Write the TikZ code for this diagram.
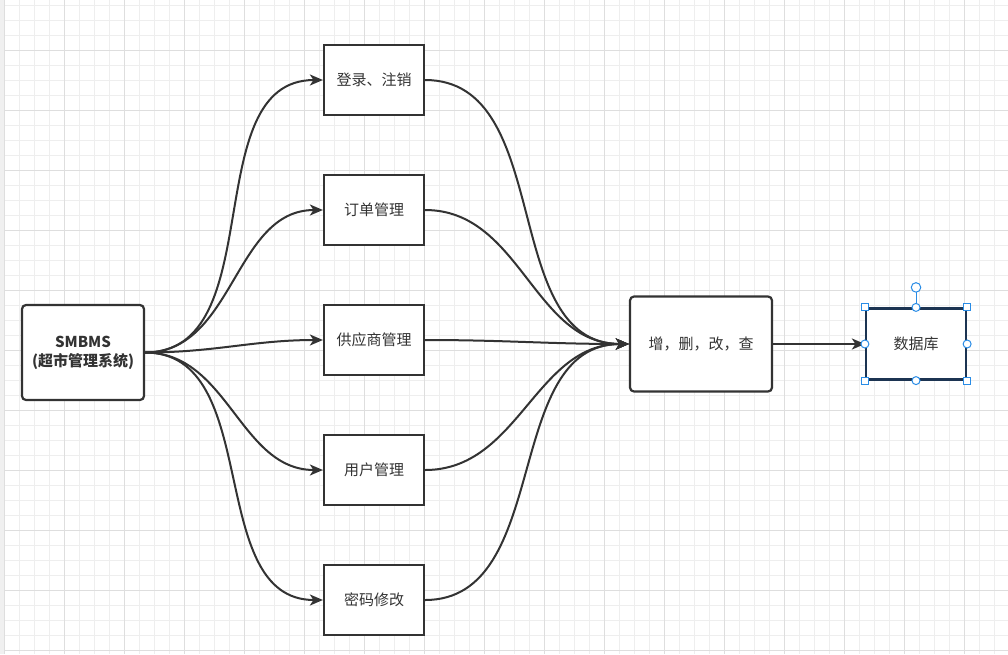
\documentclass[tikz,border=0pt]{standalone}
\usepackage{fontspec}
\newfontfamily\cjk{Noto Sans CJK SC}
\usetikzlibrary{arrows.meta}
\definecolor{Ink}{RGB}{51,51,51}
\definecolor{GridMinor}{RGB}{238,238,238}
\definecolor{GridMajor}{RGB}{222,222,222}
\definecolor{Strip}{RGB}{240,240,240}
\definecolor{DbEdge}{RGB}{28,52,82}
\definecolor{Handle}{RGB}{41,140,230}

\begin{document}
\begin{tikzpicture}[x=1pt, y=-1pt]
			\tikzset{
				box/.style={draw=Ink, line width=2.2pt, fill=white, shape=rectangle, minimum width=100pt, minimum height=70pt, align=center, text=Ink, font=\cjk\fontsize{15}{19}\selectfont},
				sysbox/.style={box, rounded corners=4pt, minimum width=122pt, minimum height=95pt},
				opbox/.style={box, rounded corners=4pt, minimum width=142pt, minimum height=95pt},
				dbbox/.style={box, draw=DbEdge, minimum height=71pt},
				flow/.style={draw=Ink, line width=2pt, -{Stealth[length=13pt, width=11pt, inset=3.5pt]}},
				sqhandle/.style={draw=Handle, line width=1pt, fill=white, minimum size=7pt, inner sep=0pt, shape=rectangle},
				rdhandle/.style={draw=Handle, line width=1pt, fill=white, minimum size=8pt, inner sep=0pt, shape=circle}
			}
			\useasboundingbox (0,0) rectangle (1008,654);
			\fill[white] (0,0) rectangle (1008,654);
			\foreach \k in {0,...,67} {
				\draw[GridMinor, line width=0.8pt] (4.3+15*\k,0) -- (4.3+15*\k,654);
			}
			\foreach \k in {0,...,44} {
				\draw[GridMinor, line width=0.8pt] (0,5+15*\k) -- (1008,5+15*\k);
			}
			\foreach \k in {0,...,16} {
				\draw[GridMajor, line width=0.8pt] (4.3+60*\k,0) -- (4.3+60*\k,654);
			}
			\foreach \k in {0,...,11} {
				\draw[GridMajor, line width=0.8pt] (0,50+60*\k) -- (1008,50+60*\k);
			}
			\fill[Strip] (0,0) rectangle (4,654);
			\node [sysbox] (sys) at (83, 352.5) {\bfseries SMBMS\\\bfseries (超市管理系统)};
			\node [box] (login) at (374, 80) {登录、注销};
			\node [box] (order) at (374, 210) {订单管理};
			\node [box] (supplier) at (374, 340) {供应商管理};
			\node [box] (user) at (374, 470) {用户管理};
			\node [box] (passwd) at (374, 600) {密码修改};
			\node [opbox] (crud) at (701, 344) {增，删，改，查};
			\node [dbbox] (db) at (916, 344) {数据库};
			\draw [flow] (sys.east) to[out=0, in=180] (login.west);
			\draw [flow] (sys.east) to[out=0, in=180] (order.west);
			\draw [flow] (sys.east) to[out=0, in=180] (supplier.west);
			\draw [flow] (sys.east) to[out=0, in=180] (user.west);
			\draw [flow] (sys.east) to[out=0, in=180] (passwd.west);
			\draw [flow] (login.east) to[out=0, in=180] (crud.west);
			\draw [flow] (order.east) to[out=0, in=180] (crud.west);
			\draw [flow] (supplier.east) to[out=0, in=180] (crud.west);
			\draw [flow] (user.east) to[out=0, in=180] (crud.west);
			\draw [flow] (passwd.east) to[out=0, in=180] (crud.west);
			\draw [flow] (crud.east) -- (db.west);
			\coordinate (rot) at ([yshift=20pt]db.north);
			\draw [Handle, line width=1pt] (db.north) -- (rot);
			\node [rdhandle, minimum size=9.5pt] (rothandle) at (rot) {};
			\foreach \c in {north west, north east, south west, south east} {
				\node [sqhandle] at (db.\c) {};
			}
			\foreach \c in {north, south, east, west} {
				\node [rdhandle] at (db.\c) {};
			}
		\end{tikzpicture}
\end{document}
